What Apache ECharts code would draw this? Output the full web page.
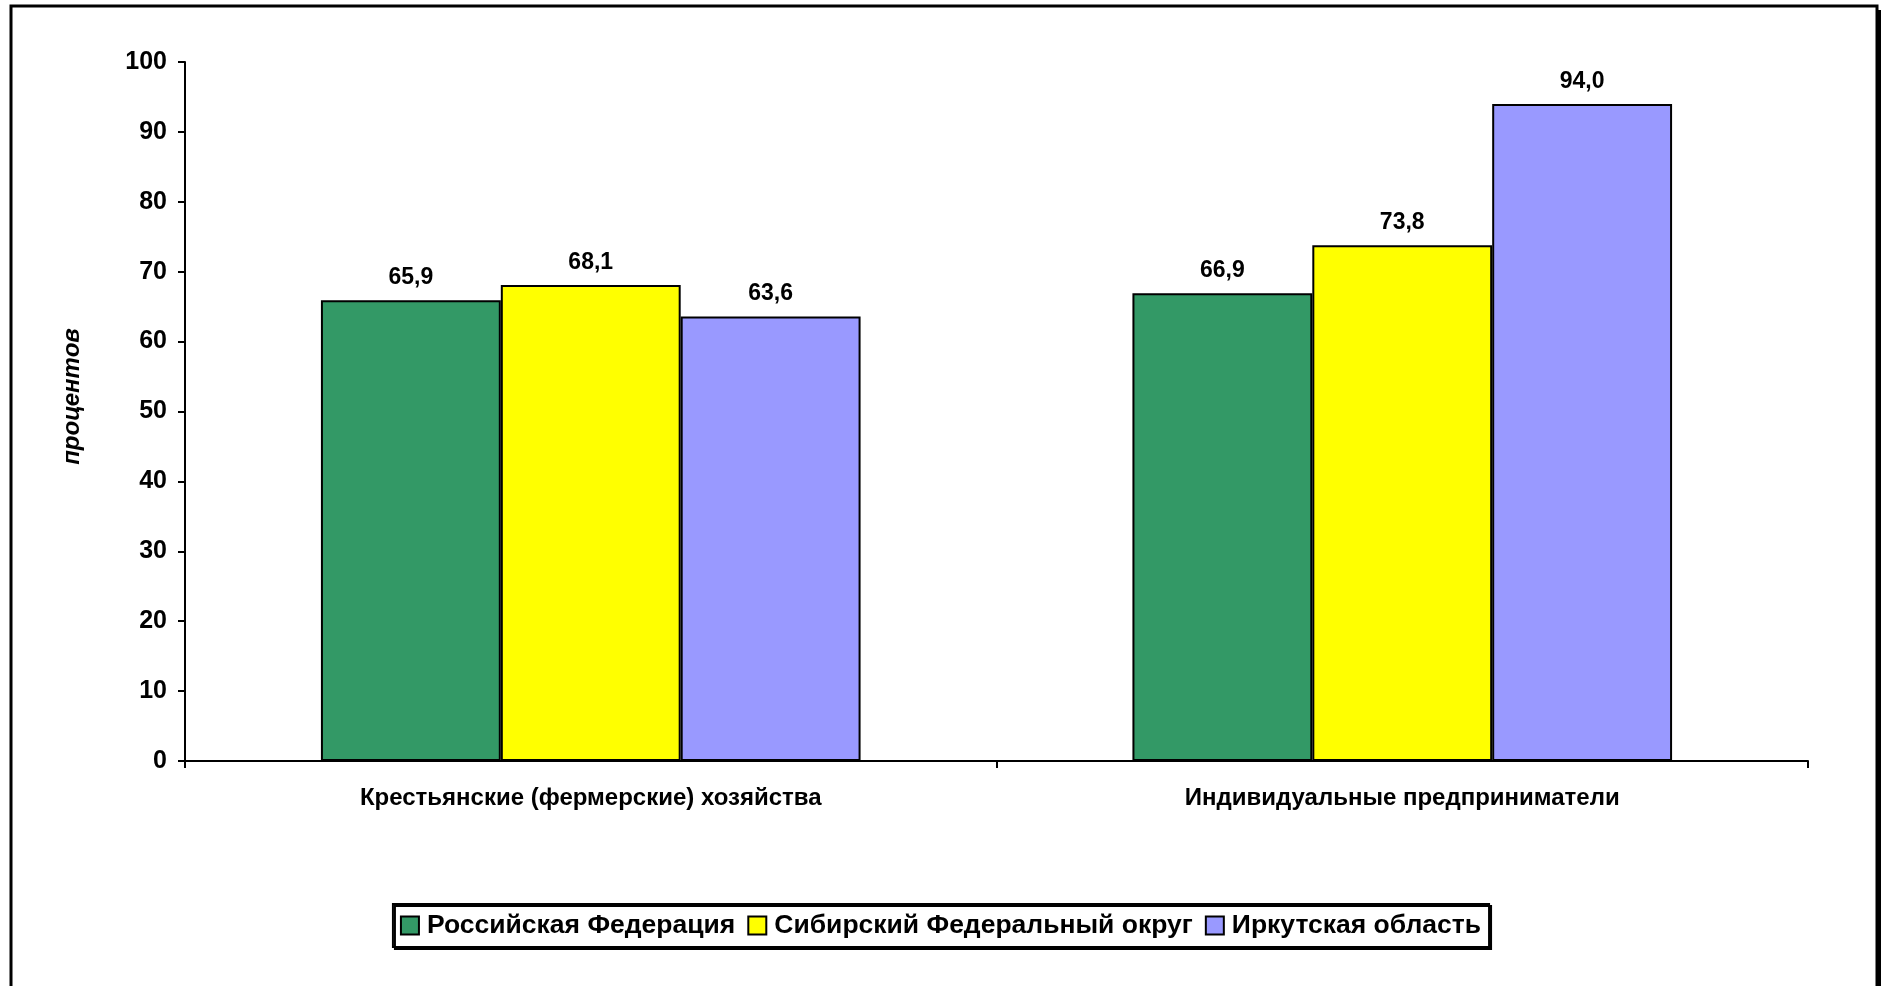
<!DOCTYPE html>
<html><head><meta charset="utf-8">
<script src="https://cdn.jsdelivr.net/npm/echarts@6/dist/echarts.min.js"></script>
<style>html,body{margin:0;padding:0;background:#fff}#c{width:1881px;height:986px}</style>
</head><body><div id="c"></div>
<script>
const categories = ['Крестьянские (фермерские) хозяйства', 'Индивидуальные предприниматели'];
const seriesNames = ['Российская Федерация', 'Сибирский Федеральный округ', 'Иркутская область'];
const russia = [65.9, 66.9];
const siberia = [68.1, 73.8];
const irkutsk = [63.6, 94.0];
const colors = ['#339966', '#FFFF00', '#9999FF'];
const yName = 'процентов';

const font = 'Liberation Sans, Arial, sans-serif';
const chart = echarts.init(document.getElementById('c'));
function mk(name, data, color) {
  return {
    name, type: 'bar', data, barGap: 0, barCategoryGap: '33.5%',
    itemStyle: { color, borderColor: '#000', borderWidth: 2 },
    label: { show: true, position: 'top', distance: 11, fontFamily: font, fontWeight: 'bold', fontSize: 23, color: '#000',
      formatter: p => p.value.toFixed(1).replace('.', ',') }
  };
}
chart.setOption({
  animation: false,
  backgroundColor: '#fff',
  graphic: [
    { type: 'rect', shape: { x: 11, y: 6, width: 1866, height: 1000 }, style: { fill: 'none', stroke: '#000', lineWidth: 3 }, z: 100 },
    { type: 'rect', shape: { x: 1878, y: 10, width: 3, height: 1000 }, style: { fill: '#000' }, z: 100 }
  ],
  grid: { left: 185, right: 73, top: 62, bottom: 225 },
  legend: {
    left: 'center', top: 904, data: seriesNames,
    borderColor: '#000', borderWidth: 2, padding: [8, 8, 8, 7],
    shadowColor: '#000', shadowBlur: 0, shadowOffsetX: 2, shadowOffsetY: 2,
    backgroundColor: '#fff',
    itemWidth: 18, itemHeight: 18, itemGap: 12,
    icon: 'rect',
    textStyle: { fontFamily: font, fontWeight: 'bold', fontSize: 26.5, color: '#000', padding: [0, 0, 0, 3] }
  },
  xAxis: {
    type: 'category', data: categories,
    axisLine: { lineStyle: { color: '#000', width: 2 } },
    axisTick: { show: true, length: 7, lineStyle: { color: '#000', width: 2 } },
    axisLabel: { margin: 25, fontFamily: font, fontWeight: 'bold', fontSize: 24, color: '#000' }
  },
  yAxis: {
    type: 'value', min: 0, max: 100, interval: 10,
    name: yName, nameLocation: 'middle', nameGap: 101, nameRotate: 90,
    nameTextStyle: { fontFamily: font, fontWeight: 'bold', fontStyle: 'italic', fontSize: 24, color: '#000', padding: [0, 0, 0, 30] },
    axisLine: { show: true, lineStyle: { color: '#000', width: 2 } },
    axisTick: { show: true, length: 7, lineStyle: { color: '#000', width: 2 } },
    splitLine: { show: false },
    axisLabel: { margin: 18, fontFamily: font, fontWeight: 'bold', fontSize: 25, color: '#000' }
  },
  series: [mk(seriesNames[0], russia, colors[0]), mk(seriesNames[1], siberia, colors[1]), mk(seriesNames[2], irkutsk, colors[2])]
});
</script></body></html>
